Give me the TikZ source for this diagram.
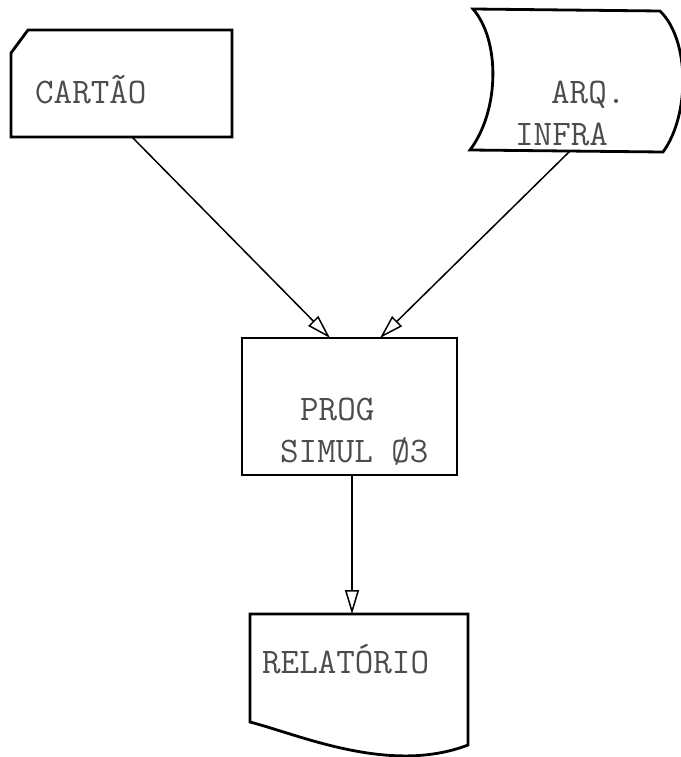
\documentclass[tikz,border=0pt]{standalone}
\usepackage{fontspec}
\setmonofont{Latin Modern Mono}
\usetikzlibrary{arrows.meta}

\begin{document}
\begin{tikzpicture}[x=1pt, y=-1pt, >={Triangle[open, length=24pt, width=14pt]},
    box/.style={line width=2.8pt, line join=miter},
    flow/.style={->, line width=1.5pt},
    lbl/.style={font=\fontsize{36}{42}\selectfont\ttfamily, text=black!70,
      inner sep=0pt, anchor=base west}]
  \useasboundingbox (0,0) rectangle (680,757);
  % entradas
  \draw[box] (11,53) -- (28,30) -- (232,30) -- (232,137) -- (11,137) -- cycle;
  \draw[box] (473,9) -- (660,11) .. controls (690,40) and (690,115) .. (663,152)
    -- (470,150) .. controls (500,110) and (500,40) .. cycle;
  \node[lbl] (cartao) at (35,103) {CARTÃO};
  \node[lbl] (arq) at (551,103) {ARQ.};
  \node[lbl] (infra) at (515,146) {INFRA};
  \coordinate (cartao-out) at (132,137);
  \coordinate (infra-out) at (570,151);
  % programa
  \node[draw, box, minimum width=215pt, minimum height=137pt] (prog) at (349.5,406.5) {};
  \node[lbl] (prog1) at (300,420) {PROG};
  \node[lbl] (prog2) at (280,462) {SIMUL Ø3};
  \coordinate (prog-in1) at (330,338);
  \coordinate (prog-in2) at (380,338);
  \coordinate (prog-out) at (352,475);
  % saida
  \draw[box] (468,745) -- (468,614) -- (250,614) -- (250,722)
    .. controls (300,735) and (390,775) .. cycle;
  \node[lbl] (relatorio) at (262,673) {RELATÓRIO};
  \coordinate (rel-in) at (352,614);
  \draw[flow] (cartao-out) -- (prog-in1);
  \draw[flow] (infra-out) -- (prog-in2);
  \draw[flow] (prog-out) -- (rel-in);
\end{tikzpicture}
\end{document}
